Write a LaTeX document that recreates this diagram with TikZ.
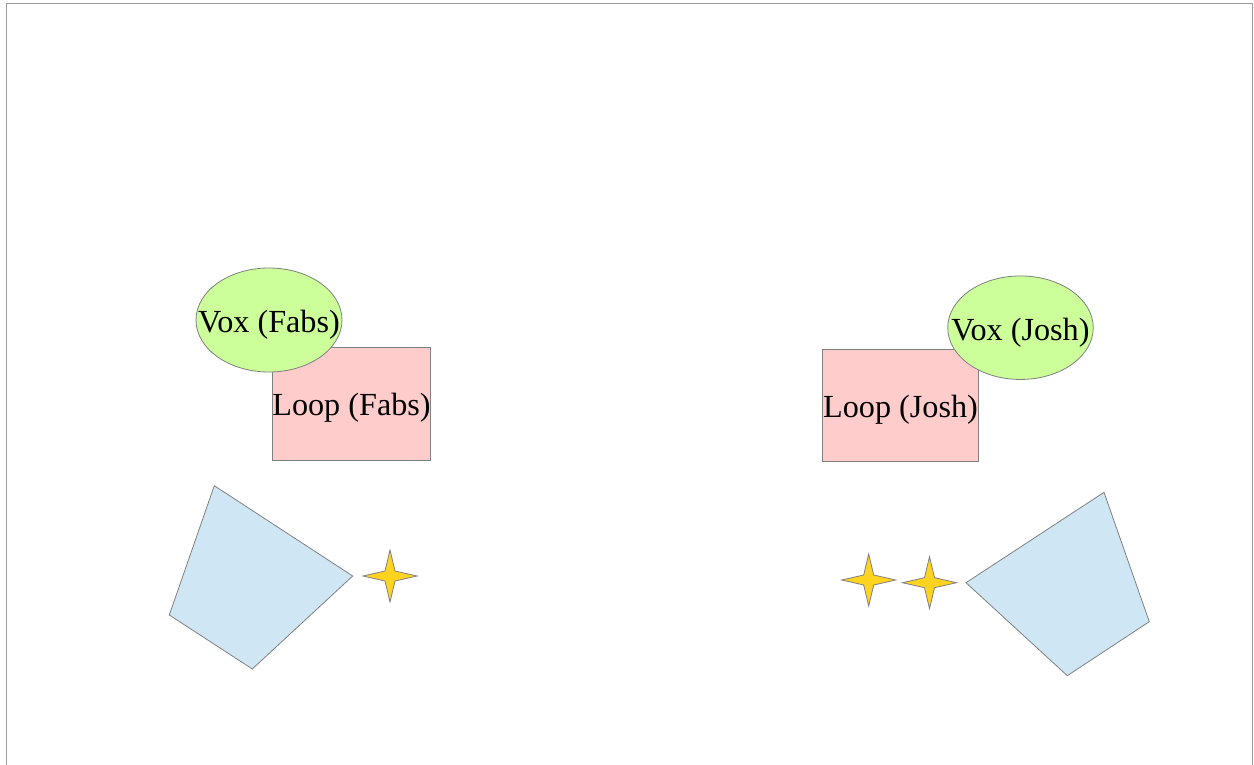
\documentclass[tikz,border=0pt]{standalone}
\usepackage{fontspec}
\setmainfont{Liberation Serif}
\usetikzlibrary{shapes.geometric}
\definecolor{voxgreen}{HTML}{CCFF99}
\definecolor{looppink}{HTML}{FFCCCC}
\definecolor{polyblue}{HTML}{CFE7F5}
\definecolor{staryellow}{HTML}{FFD320}
\definecolor{edgegray}{HTML}{808080}
\definecolor{framegray}{HTML}{9A9A9A}
\tikzset{
  shapeline/.style={draw=edgegray, line width=0.8pt},
  voxshape/.style={shapeline, fill=voxgreen, ellipse, inner sep=0pt},
  loopbox/.style={shapeline, fill=looppink, rectangle, inner sep=0pt},
  label/.style={font=\fontsize{32.2}{38}\selectfont, inner sep=0pt},
  polyshape/.style={shapeline, fill=polyblue, line join=miter},
  starshape/.style={shapeline, fill=staryellow, line join=miter},
}
\newcommand{\fourstar}[4]{% x, y, half-width, half-height
  \filldraw[starshape] (#1-#3,#2) -- (#1-5,#2-5) -- (#1,#2-#4) -- (#1+5,#2-5)
    -- (#1+#3,#2) -- (#1+5,#2+5) -- (#1,#2+#4) -- (#1-5,#2+5) -- cycle;}
\begin{document}
\begin{tikzpicture}[x=1pt,y=-1pt]
\useasboundingbox (0,0) rectangle (1254,765);
\fill[white] (0,0) rectangle (1254,765);
% page frame
\draw[framegray, line width=1pt] (6,765) -- (6,4) -- (1252,4) -- (1252,765);

% left group
\node[loopbox, minimum width=158pt, minimum height=113pt] (loopfbox) at (351.5,403.5) {};
\node[label] (loopf) at ([yshift=-4pt]loopfbox.center) {Loop (Fabs)};
\node[voxshape, minimum width=146pt, minimum height=104pt] (voxfbox) at (269,320) {};
\node[label] (voxf) at ([yshift=-5pt]voxfbox.center) {Vox (Fabs)};

% right group
\node[loopbox, minimum width=155.5pt, minimum height=112.5pt] (loopjbox) at (900.5,405.5) {};
\node[label] (loopj) at ([yshift=-4pt]loopjbox.center) {Loop (Josh)};
\node[voxshape, minimum width=145.5pt, minimum height=103.5pt] (voxjbox) at (1020.5,327.7) {};
\node[label] (voxj) at ([yshift=-5pt]voxjbox.center) {Vox (Josh)};

% left polygon and star
\filldraw[polyshape] (214.3,485.7) -- (352.7,576) -- (252.3,669) -- (169.3,615) -- cycle;
\fourstar{390}{576}{27}{26}

% right stars and polygon
\fourstar{868.7}{580}{27}{26}
\fourstar{929.5}{582.7}{27}{26}
\filldraw[polyshape] (966,582.7) -- (1104,492.3) -- (1149.3,621.7) -- (1067.3,675.7) -- cycle;
\end{tikzpicture}
\end{document}
